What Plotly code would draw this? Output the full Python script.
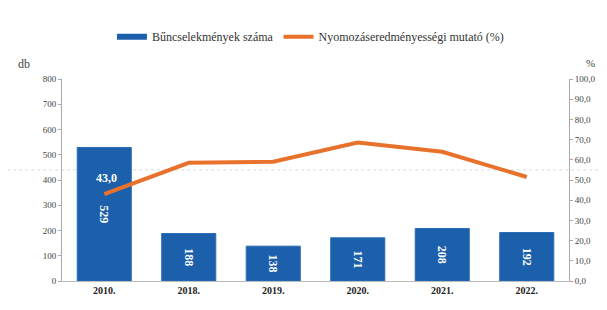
import plotly.graph_objects as go

years = ["2010.", "2018.", "2019.", "2020.", "2021.", "2022."]
crimes = [529, 188, 138, 171, 208, 192]
rate = [43.0, 58.5, 59.0, 68.5, 64.0, 51.5]
left_ticks = [0, 100, 200, 300, 400, 500, 600, 700, 800]
right_ticks = [0, 10, 20, 30, 40, 50, 60, 70, 80, 90, 100]


def hu(v):
    return f"{v:.1f}".replace(".", ",")


xpos = list(range(len(years)))

FONT = "Liberation Serif, Times New Roman, serif"
BLUE = "#1c60ab"
ORANGE = "#e8722c"

fig = go.Figure()
fig.add_trace(go.Bar(
    x=xpos, y=crimes, name="Bűncselekmények száma", showlegend=False,
    marker=dict(color=BLUE, line=dict(color="#2a6db5", width=1)),
    width=0.64,
    text=[str(v) for v in crimes], textposition="inside", insidetextanchor="middle",
    textangle=90, textfont=dict(color="white", size=12, family=FONT, weight="bold"),
    yaxis="y",
))
# legend entry drawn as a wide bar-coloured swatch
fig.add_trace(go.Scatter(
    x=[None], y=[None], name="Bűncselekmények száma", mode="lines",
    line=dict(color=BLUE, width=6), yaxis="y",
))
fig.add_trace(go.Scatter(
    x=xpos, y=rate, name="Nyomozáseredményességi mutató (%)",
    mode="lines", line=dict(color=ORANGE, width=4),
    yaxis="y2",
))
fig.add_annotation(
    x=xpos[0], y=rate[0], yref="y2", xref="x",
    text=hu(rate[0]), showarrow=False, yshift=16, xshift=2,
    font=dict(color="white", size=12, family=FONT, weight="bold"),
)
fig.add_annotation(x=-0.09, y=1.0, xref="paper", yref="paper", xanchor="left", yanchor="bottom",
                   text="db", showarrow=False, font=dict(size=12, family=FONT, color="#444"),
                   yshift=6)
fig.add_annotation(x=1.03, y=1.0, xref="paper", yref="paper", xanchor="left", yanchor="bottom",
                   text="%", showarrow=False, font=dict(size=11, family=FONT, color="#444"),
                   yshift=8)
fig.add_shape(type="line", xref="paper", yref="paper", x0=-0.12, x1=1.07, y0=0.55, y1=0.55,
              line=dict(color="rgba(150,150,150,0.35)", width=1, dash="dot"), layer="below")

fig.update_layout(
    width=599, height=302,
    margin=dict(l=54, r=38, t=71, b=29),
    paper_bgcolor="white", plot_bgcolor="white",
    font=dict(family=FONT, size=9, color="#444"),
    showlegend=True,
    legend=dict(orientation="h", x=0.49, xanchor="center", y=0.905, yanchor="middle",
                yref="container", font=dict(size=12, family=FONT, color="#333"),
                traceorder="normal"),
    xaxis=dict(range=[-0.5, len(years) - 0.5], tickvals=xpos, ticktext=years,
               showgrid=False, showline=True, linecolor="#bbb", linewidth=1, ticks="",
               zeroline=False,
               tickfont=dict(size=10, family=FONT, color="#222", weight="bold")),
    yaxis=dict(range=[0, 800], tickvals=left_ticks, showgrid=False, showline=True,
               linecolor="#aaa", linewidth=1, ticks="outside", ticklen=3, tickcolor="#aaa",
               tickfont=dict(size=9, family=FONT, color="#444"), zeroline=False),
    yaxis2=dict(range=[0, 100], tickvals=right_ticks, ticktext=[hu(v) for v in right_ticks],
                overlaying="y", side="right", showgrid=False, showline=True,
                linecolor="#aaa", linewidth=1, ticks="outside", ticklen=3, tickcolor="#aaa",
                tickfont=dict(size=9, family=FONT, color="#444"), zeroline=False),
)

fig.write_html("out.html")
